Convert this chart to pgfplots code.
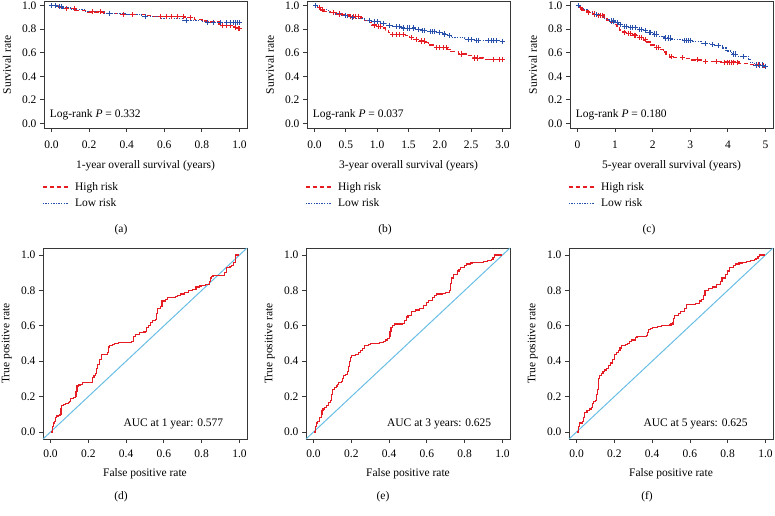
\documentclass[border=0pt]{standalone}
\usepackage{fontspec}
\setmainfont{Liberation Serif}
\usepackage{pgfplots}
\pgfplotsset{compat=1.18}

\definecolor{riskred}{RGB}{230,28,36}
\definecolor{riskblue}{RGB}{40,80,170}
\definecolor{diagblue}{RGB}{105,190,230}
\definecolor{framegray}{RGB}{55,55,55}

\newcommand{\fs}{\fontsize{11.5}{13}\selectfont}

\tikzset{
  hi/.style={draw=riskred, line width=1.4pt, dash pattern=on 4.5pt off 2.5pt},
  lo/.style={draw=riskblue, line width=1.2pt, dash pattern=on 1.3pt off 1.3pt},
}

\pgfplotsset{
  base/.style={
    scale only axis, anchor=north west,
    axis line style={framegray, line width=0.9pt},
    tick pos=left, tick align=outside,
    major tick length=4pt,
    every tick/.style={framegray, line width=0.8pt},
    /pgf/number format/assume math mode=true,
    /pgf/number format/.cd, fixed, fixed zerofill, precision=1, /pgfplots/.cd,
    ticklabel style={font=\fs},
    label style={font=\fs},
    clip=false,
  },
  km/.style={base, width=203pt, height=127pt,
    ymin=-0.04, ymax=1.04, ytick={0,0.2,0.4,0.6,0.8,1.0},
    ylabel={Survival rate},
    ylabel style={at={(axis description cs:-0.182,0.5)}, anchor=center},
    xlabel style={at={(axis description cs:0.5,-0.30)}, anchor=center},
    xticklabel style={yshift=-5pt},
    legend style={at={(axis description cs:-0.01,-0.415)}, anchor=north west,
      draw=none, fill=none, font=\fs, row sep=4pt, inner sep=0pt,
      nodes={inner sep=1.5pt}},
    legend cell align=left,
    legend image code/.code={\draw[##1] (0pt,0pt) -- (25pt,0pt); \path (30pt,0pt);},
  },
  roc/.style={base, width=204pt, height=191pt,
    xmin=-0.04, xmax=1.04, ymin=-0.04, ymax=1.04,
    xtick={0,0.2,0.4,0.6,0.8,1.0}, ytick={0,0.2,0.4,0.6,0.8,1.0},
    xlabel={False positive rate}, ylabel={True positive rate},
    xticklabel style={yshift=-3pt},
    ylabel style={at={(axis description cs:-0.177,0.5)}, anchor=center},
    xlabel style={at={(axis description cs:0.5,-0.18)}, anchor=center},
  },
  himk/.style={only marks, mark=+, mark size=2.6pt, color=riskred, mark options={line width=0.8pt}},
  lomk/.style={only marks, mark=+, mark size=2.6pt, color=riskblue, mark options={line width=0.8pt}},
  rocline/.style={color=riskred, line width=1.2pt, const plot, mark=none},
  diagline/.style={color=diagblue, line width=1pt, mark=none},
}

\begin{document}
\begin{tikzpicture}[x=1pt,y=1pt]
\useasboundingbox (0pt,0pt) rectangle (775pt,-515pt);

% (a) 1-year KM
\begin{axis}[km, at={(44pt,-1pt)}, xmin=-0.04, xmax=1.04,
  xtick={0,0.2,0.4,0.6,0.8,1.0}, xlabel={1-year overall survival (years)}]
\addlegendimage{hi}\addlegendentry{High risk}
\addlegendimage{lo}\addlegendentry{Low risk}
\addplot[riskred, hi, const plot, forget plot] coordinates {
(0,1.000) (0.04,0.985) (0.06,0.975) (0.13,0.960) (0.19,0.948) (0.28,0.935)
(0.36,0.925) (0.50,0.915) (0.54,0.908) (0.71,0.900) (0.76,0.885) (0.80,0.870)
(0.83,0.860) (0.89,0.845) (0.90,0.830) (0.97,0.815) (0.99,0.805) (1.00,0.805)};
\addplot[riskblue, lo, const plot, forget plot] coordinates {
(0,1.000) (0.03,0.990) (0.06,0.980) (0.10,0.965) (0.18,0.950) (0.28,0.935)
(0.40,0.925) (0.48,0.905) (0.58,0.890) (0.70,0.875) (0.80,0.865) (0.83,0.858) (1.00,0.858)};
\addplot[himk, forget plot] coordinates {
(0.02,1.0) (0.08,0.975) (0.12,0.975) (0.22,0.948) (0.26,0.948) (0.38,0.925)
(0.43,0.925) (0.58,0.908) (0.61,0.908) (0.64,0.908) (0.67,0.908) (0.70,0.908)
(0.74,0.900) (0.86,0.860) (0.91,0.830) (0.93,0.830) (0.95,0.830) (0.98,0.815)
(0.995,0.805) (1.0,0.805)};
\addplot[lomk, forget plot] coordinates {
(0.0,1.0) (0.02,1.0) (0.04,0.99) (0.05,0.99) (0.31,0.935) (0.50,0.905)
(0.72,0.875) (0.83,0.858) (0.86,0.858) (0.90,0.858) (0.93,0.858) (0.95,0.858)
(0.97,0.858) (0.98,0.858) (0.99,0.858) (1.0,0.858)};
\node[anchor=west, font=\fs, inner sep=0pt] at (axis cs:-0.01,0.07) {Log-rank \textit{P} = 0.332};
\end{axis}

% (b) 3-year KM
\begin{axis}[km, at={(307pt,-1pt)}, xmin=-0.12, xmax=3.12,
  xtick={0,0.5,1.0,1.5,2.0,2.5,3.0}, xlabel={3-year overall survival (years)}]
\addlegendimage{hi}\addlegendentry{High risk}
\addlegendimage{lo}\addlegendentry{Low risk}
\addplot[riskred, hi, const plot, forget plot] coordinates {
(0,1.0) (0.05,0.985) (0.10,0.965) (0.15,0.950) (0.25,0.940) (0.35,0.930)
(0.45,0.920) (0.55,0.910) (0.74,0.895) (0.80,0.875) (0.88,0.855) (0.92,0.835)
(1.00,0.825) (1.08,0.810) (1.13,0.790) (1.18,0.770) (1.22,0.755) (1.45,0.745)
(1.52,0.730) (1.58,0.715) (1.65,0.700) (1.78,0.685) (1.82,0.665) (1.90,0.645)
(2.12,0.630) (2.18,0.610) (2.30,0.590) (2.42,0.575) (2.52,0.555) (2.70,0.545) (3.00,0.545)};
\addplot[riskblue, lo, const plot, forget plot] coordinates {
(0,1.0) (0.05,0.985) (0.12,0.965) (0.22,0.945) (0.32,0.930) (0.42,0.915)
(0.52,0.900) (0.65,0.890) (0.80,0.875) (0.92,0.865) (1.05,0.850) (1.15,0.835)
(1.25,0.820) (1.38,0.810) (1.62,0.800) (1.70,0.790) (1.80,0.780) (1.95,0.775)
(2.05,0.760) (2.12,0.745) (2.18,0.730) (2.40,0.715) (2.55,0.705) (2.95,0.695) (3.0,0.695)};
\addplot[himk, forget plot] coordinates {
(0.08,0.985) (0.12,0.965) (0.30,0.940) (0.40,0.930) (0.58,0.910) (0.62,0.910)
(0.66,0.910) (0.70,0.910) (0.95,0.835) (1.02,0.825) (1.05,0.825) (1.25,0.755)
(1.30,0.755) (1.35,0.755) (1.42,0.755) (1.55,0.730) (1.62,0.715) (1.70,0.700)
(1.75,0.700) (1.95,0.645) (2.00,0.645) (2.05,0.645) (2.10,0.645) (2.35,0.590)
(2.55,0.555) (2.60,0.555) (2.85,0.545) (2.95,0.545) (3.0,0.545)};
\addplot[lomk, forget plot] coordinates {
(0.02,1.0) (0.50,0.915) (0.60,0.900) (0.88,0.875) (0.95,0.865) (1.00,0.865)
(1.10,0.850) (1.20,0.835) (1.30,0.820) (1.35,0.820) (1.42,0.810) (1.48,0.810)
(1.52,0.810) (1.58,0.810) (1.65,0.800) (1.72,0.790) (1.75,0.790) (1.85,0.780)
(1.88,0.780) (1.92,0.780) (2.00,0.775) (2.08,0.760) (2.15,0.745) (2.45,0.715)
(2.50,0.715) (2.58,0.705) (2.62,0.705) (2.78,0.705) (2.82,0.705) (2.86,0.705)
(2.90,0.705) (3.0,0.695)};
\node[anchor=west, font=\fs, inner sep=0pt] at (axis cs:-0.03,0.07) {Log-rank \textit{P} = 0.037};
\end{axis}

% (c) 5-year KM
\begin{axis}[km, at={(570pt,-1pt)}, xmin=-0.2, xmax=5.2,
  xtick={0,1,2,3,4,5}, xticklabels={0,1,2,3,4,5},
  xlabel={5-year overall survival (years)}]
\addlegendimage{hi}\addlegendentry{High risk}
\addlegendimage{lo}\addlegendentry{Low risk}
\addplot[riskred, hi, const plot, forget plot] coordinates {
(0,1.0) (0.05,0.985) (0.12,0.965) (0.25,0.945) (0.40,0.930) (0.50,0.920)
(0.70,0.900) (0.78,0.880) (0.85,0.860) (0.95,0.840) (1.05,0.815) (1.12,0.795)
(1.20,0.775) (1.30,0.765) (1.45,0.750) (1.60,0.730) (1.75,0.710) (1.85,0.690)
(1.95,0.665) (2.05,0.645) (2.20,0.630) (2.28,0.605) (2.35,0.585) (2.45,0.565)
(2.55,0.560) (2.90,0.550) (3.05,0.540) (3.30,0.525) (3.80,0.520) (4.30,0.510)
(4.60,0.500) (4.90,0.490) (4.98,0.480) (5.0,0.480)};
\addplot[riskblue, lo, const plot, forget plot] coordinates {
(0,1.0) (0.05,0.985) (0.15,0.965) (0.30,0.945) (0.45,0.925) (0.60,0.905)
(0.72,0.885) (0.85,0.870) (1.00,0.855) (1.10,0.840) (1.20,0.825) (1.35,0.815)
(1.60,0.800) (1.75,0.790) (1.85,0.775) (2.00,0.760) (2.15,0.740) (2.30,0.725)
(2.50,0.715) (2.80,0.705) (3.05,0.695) (3.30,0.680) (3.50,0.670) (3.65,0.660)
(3.85,0.640) (3.95,0.615) (4.10,0.590) (4.25,0.570) (4.55,0.545) (4.60,0.515)
(4.70,0.495) (5.0,0.485)};
\addplot[himk, forget plot] coordinates {
(0.08,0.985) (0.30,0.945) (0.45,0.930) (0.55,0.920) (0.60,0.920) (0.65,0.920)
(1.25,0.775) (1.35,0.765) (1.40,0.765) (1.50,0.750) (1.55,0.750) (1.65,0.730)
(1.70,0.730) (1.80,0.710) (2.10,0.645) (2.15,0.645) (2.50,0.565) (2.80,0.560)
(3.20,0.540) (3.40,0.525) (3.70,0.525) (3.90,0.520) (4.00,0.520) (4.05,0.520)
(4.10,0.520) (4.15,0.520) (4.25,0.520) (4.80,0.500) (4.95,0.490) (5.0,0.480)};
\addplot[lomk, forget plot] coordinates {
(0.02,1.0) (0.50,0.925) (0.90,0.870) (0.95,0.870) (1.05,0.855) (1.15,0.840)
(1.25,0.825) (1.30,0.825) (1.40,0.815) (1.45,0.815) (1.55,0.815) (1.65,0.800)
(1.70,0.800) (1.80,0.790) (1.90,0.775) (1.95,0.775) (2.05,0.760) (2.10,0.760)
(2.35,0.725) (2.42,0.725) (2.48,0.725) (2.85,0.705) (2.90,0.705) (2.95,0.705)
(3.00,0.705) (3.40,0.680) (3.60,0.670) (3.75,0.660) (4.15,0.590) (4.20,0.590)
(4.40,0.570) (4.75,0.495) (4.85,0.495) (4.92,0.495) (5.0,0.485)};
\node[anchor=west, font=\fs, inner sep=0pt] at (axis cs:-0.05,0.07) {Log-rank \textit{P} = 0.180};
\end{axis}

% (d) ROC 1 year
\begin{axis}[roc, at={(43pt,-248pt)}]
\addplot[diagline] coordinates {(-0.04,-0.04) (1.04,1.04)};
\addplot[rocline] coordinates {
(0,0) (0.01,0) (0.01,0.03) (0.015,0.05) (0.02,0.06) (0.025,0.08) (0.03,0.09)
(0.04,0.095) (0.05,0.10) (0.055,0.13) (0.06,0.15) (0.07,0.155) (0.08,0.16)
(0.095,0.165) (0.10,0.17) (0.105,0.19) (0.12,0.195) (0.13,0.20) (0.135,0.23)
(0.14,0.26) (0.15,0.265) (0.16,0.27) (0.17,0.28) (0.21,0.28) (0.22,0.31)
(0.23,0.32) (0.24,0.33) (0.245,0.36) (0.25,0.38) (0.26,0.41) (0.27,0.44)
(0.29,0.44) (0.30,0.45) (0.305,0.48) (0.31,0.49) (0.33,0.495) (0.34,0.50)
(0.36,0.505) (0.42,0.505) (0.43,0.51) (0.44,0.54) (0.45,0.55) (0.47,0.56)
(0.49,0.565) (0.50,0.57) (0.51,0.59) (0.52,0.60) (0.53,0.62) (0.54,0.63)
(0.555,0.635) (0.56,0.67) (0.565,0.70) (0.58,0.71) (0.59,0.74) (0.61,0.75)
(0.62,0.76) (0.66,0.765) (0.67,0.77) (0.69,0.78) (0.71,0.79) (0.73,0.80)
(0.75,0.805) (0.77,0.82) (0.79,0.825) (0.80,0.83) (0.82,0.835) (0.84,0.85)
(0.845,0.87) (0.85,0.88) (0.86,0.885) (0.91,0.885) (0.92,0.90) (0.93,0.93)
(0.95,0.935) (0.96,0.94) (0.97,0.96) (0.98,1.0) (1.0,1.0)};
\node[font=\fs] at (axis cs:0.65,0.045) {AUC at 1 year: 0.577};
\end{axis}

% (e) ROC 3 years
\begin{axis}[roc, at={(306pt,-248pt)}]
\addplot[diagline] coordinates {(-0.04,-0.04) (1.04,1.04)};
\addplot[rocline] coordinates {
(0,0) (0.01,0) (0.01,0.03) (0.015,0.05) (0.02,0.06) (0.03,0.08) (0.04,0.10)
(0.045,0.12) (0.05,0.13) (0.06,0.14) (0.07,0.15) (0.08,0.165) (0.09,0.18)
(0.095,0.21) (0.10,0.24) (0.11,0.25) (0.12,0.26) (0.125,0.27) (0.13,0.28)
(0.15,0.285) (0.155,0.30) (0.16,0.32) (0.17,0.325) (0.18,0.34) (0.185,0.37)
(0.19,0.40) (0.195,0.42) (0.20,0.43) (0.22,0.44) (0.23,0.44) (0.24,0.45)
(0.25,0.46) (0.26,0.47) (0.27,0.49) (0.29,0.495) (0.30,0.50) (0.35,0.505)
(0.37,0.51) (0.38,0.52) (0.39,0.53) (0.40,0.54) (0.405,0.57) (0.41,0.59)
(0.42,0.60) (0.43,0.61) (0.47,0.615) (0.48,0.63) (0.49,0.65) (0.50,0.66)
(0.52,0.68) (0.54,0.69) (0.56,0.70) (0.58,0.715) (0.60,0.73) (0.61,0.745)
(0.63,0.76) (0.64,0.77) (0.65,0.78) (0.68,0.785) (0.70,0.79) (0.72,0.80)
(0.725,0.84) (0.73,0.87) (0.74,0.89) (0.76,0.91) (0.77,0.92) (0.78,0.93)
(0.80,0.94) (0.81,0.95) (0.83,0.955) (0.84,0.96) (0.90,0.965) (0.92,0.97)
(0.94,0.975) (0.95,0.985) (0.96,1.0) (1.0,1.0)};
\node[font=\fs] at (axis cs:0.665,0.045) {AUC at 3 years: 0.625};
\end{axis}

% (f) ROC 5 years
\begin{axis}[roc, at={(569pt,-248pt)}]
\addplot[diagline] coordinates {(-0.04,-0.04) (1.04,1.04)};
\addplot[rocline] coordinates {
(0,0) (0.01,0) (0.01,0.03) (0.015,0.05) (0.03,0.06) (0.035,0.08) (0.04,0.11)
(0.055,0.12) (0.07,0.13) (0.08,0.14) (0.085,0.16) (0.09,0.17) (0.10,0.18)
(0.105,0.21) (0.11,0.24) (0.115,0.30) (0.12,0.32) (0.13,0.33) (0.14,0.34)
(0.15,0.35) (0.16,0.36) (0.17,0.375) (0.18,0.39) (0.19,0.41) (0.20,0.44)
(0.21,0.45) (0.22,0.46) (0.23,0.475) (0.24,0.49) (0.26,0.495) (0.27,0.50)
(0.28,0.51) (0.29,0.52) (0.31,0.535) (0.32,0.54) (0.34,0.54) (0.37,0.545)
(0.375,0.56) (0.38,0.58) (0.39,0.585) (0.40,0.59) (0.43,0.595) (0.45,0.60)
(0.49,0.605) (0.50,0.61) (0.51,0.62) (0.515,0.64) (0.52,0.66) (0.54,0.67)
(0.55,0.68) (0.57,0.70) (0.58,0.72) (0.63,0.725) (0.65,0.74) (0.66,0.75)
(0.67,0.77) (0.68,0.80) (0.70,0.81) (0.72,0.82) (0.74,0.835) (0.76,0.85)
(0.77,0.87) (0.79,0.89) (0.80,0.91) (0.81,0.93) (0.83,0.94) (0.84,0.95)
(0.86,0.955) (0.88,0.96) (0.90,0.965) (0.92,0.97) (0.94,0.975) (0.95,0.98)
(0.96,0.99) (0.97,1.0) (1.0,1.0)};
\node[font=\fs] at (axis cs:0.63,0.045) {AUC at 5 years: 0.625};
\end{axis}

% panel captions
\node[font=\fs] at (121pt,-230pt) {(a)};
\node[font=\fs] at (385pt,-230pt) {(b)};
\node[font=\fs] at (649pt,-230pt) {(c)};
\node[font=\fs] at (121pt,-497pt) {(d)};
\node[font=\fs] at (383pt,-497pt) {(e)};
\node[font=\fs] at (647pt,-497pt) {(f)};
\end{tikzpicture}
\end{document}
